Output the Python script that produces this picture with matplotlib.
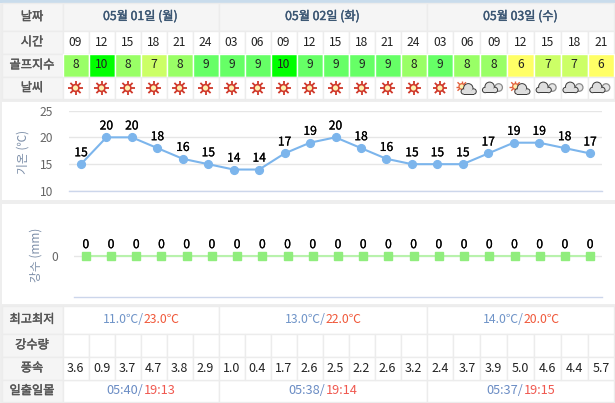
import matplotlib
matplotlib.use('Agg')
import matplotlib.pyplot as plt
import matplotlib.patheffects as pe
from matplotlib.patches import Rectangle, Circle
import numpy as np

plt.rcParams['font.family'] = ['Noto Sans CJK KR', 'DejaVu Sans']

hours = ['09', '12', '15', '18', '21', '24', '03', '06', '09', '12', '15', '18', '21', '24',
         '03', '06', '09', '12', '15', '18', '21']
golf = [8, 10, 8, 7, 8, 9, 9, 9, 10, 9, 9, 9, 9, 8, 9, 8, 8, 6, 7, 7, 6]
weather = ['sun'] * 15 + ['partly', 'cloud', 'partly', 'cloud', 'cloud', 'cloud']
temps = [15, 20, 20, 18, 16, 15, 14, 14, 17, 19, 20, 18, 16, 15, 15, 15, 17, 19, 19, 18, 17]
rain = [0] * 21
wind = ['3.6', '0.9', '3.7', '4.7', '3.8', '2.9', '1.0', '0.4', '1.7', '2.6', '2.5', '2.2', '2.6',
        '3.2', '2.4', '3.7', '3.9', '5.0', '4.6', '4.4', '5.7']
days = ['05월 01일 (월)', '05월 02일 (화)', '05월 03일 (수)']
lows = ['11.0℃', '13.0℃', '14.0℃']
highs = ['23.0℃', '22.0℃', '20.0℃']
sunrise = ['05:40', '05:38', '05:37']
sunset = ['19:13', '19:14', '19:15']

golf_colors = {10: '#00ff00', 9: '#66ff66', 8: '#99ff66', 7: '#ccff66', 6: '#ffff66'}
BORDER = '#ececec'
HEAD = '#f5f5f5'
LABEL = '#555555'

W, H = 615, 403
fig = plt.figure(figsize=(W / 100, H / 100), dpi=100, facecolor='white')
bg = fig.add_axes([0, 0, 1, 1])
bg.set_xlim(0, W)
bg.set_ylim(H, 0)
bg.axis('off')

# column edges, the first two days are a bit narrower than the third
edges = [62.5 + 26 * i for i in range(15)] + [426.5 + 26.85 * i for i in range(1, 8)]
day_edges = [edges[0], edges[6], edges[14], edges[21]]
centers = [(edges[i] + edges[i + 1]) / 2 for i in range(21)]


def semibold(color, width=0.15):
    # the font only has regular and bold, this sits in between
    return [pe.withStroke(linewidth=width, foreground=color)]


def cell(x0, y0, x1, y1, color='white', edge=BORDER):
    bg.add_patch(Rectangle((x0, y0), x1 - x0, y1 - y0, fc=color, ec=edge, lw=1))


def label_row(y0, y1, text):
    cell(1.5, y0, edges[0], y1, HEAD)
    bg.text(32, (y0 + y1) / 2, text, ha='center', va='center', fontsize=8.8, color=LABEL,
            path_effects=semibold(LABEL, 0.3))


def draw_sun(cx, cy, r=3.4, ray=7.2, ray_color='#d0392b', lw=1.3):
    for a in np.radians(range(0, 360, 45)):
        bg.plot([cx, cx + ray * np.cos(a)], [cy, cy + ray * np.sin(a)],
                color=ray_color, lw=lw, solid_capstyle='butt', zorder=3)
    bg.add_patch(Circle((cx, cy), r, fc='#fdf0b0', ec=ray_color, lw=lw * 0.9, zorder=4))


def draw_cloud(cx, cy, back=True):
    # small grey cloud behind, then the main one
    if back:
        bg.add_patch(Circle((cx + 7.5, cy - 0.5), 3.8, fc='#e6e6e6', ec='#8a8a8a', lw=0.9, zorder=5))
    parts = [(-6, 2, 3.2), (-1.5, -1.2, 5.2), (3.8, 2, 3.2)]
    for dx, dy, r in parts:
        bg.add_patch(Circle((cx + dx, cy + dy), r, fc='#3c3c3c', ec='none', zorder=6))
    bg.add_patch(Rectangle((cx - 6, cy + 1), 9.8, 4.2, fc='#3c3c3c', ec='none', zorder=6))
    for dx, dy, r in parts:
        bg.add_patch(Circle((cx + dx, cy + dy), r - 1, fc='#dedede', ec='none', zorder=7))
    bg.add_patch(Rectangle((cx - 6, cy + 1), 9.8, 3.2, fc='#dedede', ec='none', zorder=7))


# page frame
bg.add_patch(Rectangle((0, 0), W, H, fc='#eeeeee', ec='none', zorder=-2))
bg.add_patch(Rectangle((0, 0), W, 2.5, fc='#c9dcec', ec='none', zorder=-1))

# top table
label_row(3, 30.5, '날짜')
for i, d in enumerate(days):
    cell(day_edges[i], 3, day_edges[i + 1], 30.5, HEAD)
    bg.text((day_edges[i] + day_edges[i + 1]) / 2, 16.5, d, ha='center', va='center', fontsize=8.8,
            color='#3b5673', path_effects=semibold('#3b5673', 0.3))
label_row(30.5, 53.5, '시간')
label_row(53.5, 76.5, '골프지수')
label_row(76.5, 99, '날씨')
for i in range(21):
    cell(edges[i], 30.5, edges[i + 1], 53.5)
    bg.text(centers[i], 42, hours[i], ha='center', va='center', fontsize=8.7, color='#222222')
    cell(edges[i], 53.5, edges[i + 1], 76.5, golf_colors[golf[i]], 'white')
    bg.text(centers[i], 65, str(golf[i]), ha='center', va='center', fontsize=8.7, color='#222222')
    cell(edges[i], 76.5, edges[i + 1], 99)
    if weather[i] == 'sun':
        draw_sun(centers[i], 88)
    elif weather[i] == 'partly':
        draw_sun(centers[i] - 5, 86.5, r=2.8, ray=6, ray_color='#e2603c', lw=1)
        draw_cloud(centers[i] + 3, 89.5, back=False)
    else:
        draw_cloud(centers[i] - 2.5, 88)

# chart panels
bg.add_patch(Rectangle((1.5, 102), W - 1.5, 98, fc='white', ec='none'))
bg.add_patch(Rectangle((1.5, 204), W - 1.5, 100, fc='white', ec='none'))

# bottom table
label_row(305.5, 333.5, '최고최저')
label_row(333.5, 356.5, '강수량')
label_row(356.5, 379.5, '풍속')
label_row(379.5, 402, '일출일몰')
for i in range(3):
    x0, x1 = day_edges[i], day_edges[i + 1]
    xc = (x0 + x1) / 2
    cell(x0, 305.5, x1, 333.5)
    cell(x0, 379.5, x1, 402)
    bg.annotate(lows[i] + '/', (xc + 3, 319.5), ha='right', va='center', fontsize=8.8, color='#6f94c8')
    bg.annotate(highs[i], (xc + 3, 319.5), ha='left', va='center', fontsize=8.8, color='#f0583a')
    bg.annotate(sunrise[i] + '/', (xc + 3, 391), ha='right', va='center', fontsize=9.2, color='#6a8cc4')
    bg.annotate(sunset[i], (xc + 3, 391), ha='left', va='center', fontsize=9.2, color='#f0584f')
for i in range(21):
    cell(edges[i], 333.5, edges[i + 1], 356.5)
    cell(edges[i], 356.5, edges[i + 1], 379.5)
    bg.text(centers[i], 368, wind[i], ha='center', va='center', fontsize=9, color='#222222')


def chart_axes(x0, x1, y_top, y_bottom, pad):
    ax = fig.add_axes([x0 / W, 1 - y_bottom / H, (x1 - x0) / W, (y_bottom - y_top) / H])
    ax.patch.set_alpha(0)
    for s in ['top', 'right', 'left']:
        ax.spines[s].set_visible(False)
    ax.spines['bottom'].set_color('#ccd6eb')
    ax.spines['bottom'].set_linewidth(1)
    ax.set_xticks([])
    ax.tick_params(axis='y', length=0, labelsize=8.7, labelcolor='#666666', pad=pad)
    ax.grid(axis='y', color='#e6e6e6', lw=1)
    ax.set_axisbelow(True)
    ax.set_xlim(-0.47, 20.47)
    return ax


# temperature
ax1 = chart_axes(69, 602, 110.5, 191, 11.5)
ax1.set_ylim(10, 25)
ax1.set_yticks([10, 15, 20, 25])
ax1.plot(range(21), temps, color='#7cb5ec', lw=1.5, marker='o', ms=5.6, clip_on=False)
for i, t in enumerate(temps):
    ax1.annotate(str(t), (i, t), xytext=(0, 3.5), textcoords='offset points', ha='center', va='bottom',
                 fontsize=8.7, color='black', path_effects=semibold('black'))
bg.text(23, 152, '기온 (℃)', rotation=90, ha='center', va='center', fontsize=8.5, color='#7c8ea8')

# rainfall
ax2 = chart_axes(74, 602, 215, 297, 11.5)
ax2.set_ylim(-1, 1)
ax2.set_yticks([0])
ax2.plot(range(21), rain, color='#b8f2ac', lw=1.5, zorder=3)
ax2.plot(range(21), rain, ls='none', color='#90ed7d', marker='s', ms=5.8, clip_on=False, zorder=4)
for i, r in enumerate(rain):
    ax2.annotate(str(r), (i, r), xytext=(0, 3.5), textcoords='offset points', ha='center', va='bottom',
                 fontsize=8.7, color='black', path_effects=semibold('black'))
bg.text(36, 255, '강수 (mm)', rotation=90, ha='center', va='center', fontsize=8.5, color='#7c8ea8')

fig.savefig('out.png', dpi=100)
